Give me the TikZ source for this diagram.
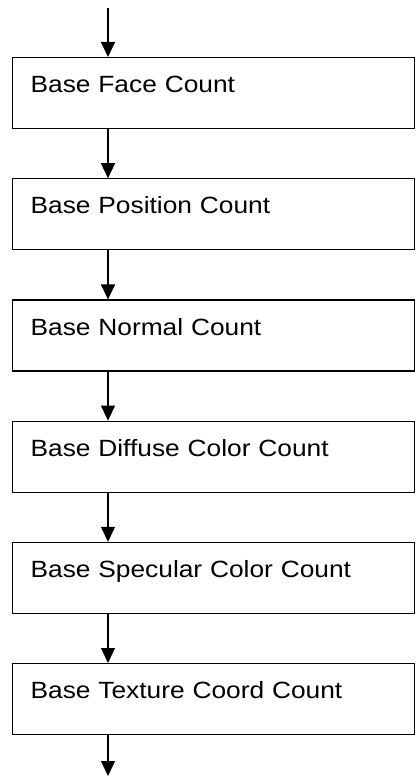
\documentclass[tikz,border=0pt]{standalone}
\usepackage{fontspec}
\setmainfont{Liberation Sans}
\newfontfamily\boxfont[FakeStretch=1.12]{Liberation Sans}
\usetikzlibrary{arrows.meta,positioning}

\begin{document}
\begin{tikzpicture}[x=1pt,y=-1pt,node distance=49pt]
    \tikzset{
      countbox/.style={draw=black,line width=1.2pt,anchor=north west,minimum width=402pt,text width=366pt,align=left,inner xsep=18pt,inner ysep=0pt,text height=35pt,text depth=36pt,font=\boxfont\fontsize{23.5}{27}\selectfont},
      arrow/.style={-{Triangle[length=15pt,width=14pt]},draw=black,line width=1.3pt}
    }
    \useasboundingbox (0,0) rectangle (415,776);
    \coordinate (in) at (108,8);
    \coordinate (out) at (108,776);
    \node[countbox] (face) at (12,57) {Base Face Count};
    \node[countbox,below=of face] (position) {Base Position Count};
    \node[countbox,below=of position] (normal) {Base Normal Count};
    \node[countbox,below=of normal] (diffuse) {Base Diffuse Color Count};
    \node[countbox,below=of diffuse] (specular) {Base Specular Color Count};
    \node[countbox,below=of specular] (texture) {Base Texture Coord Count};
    \draw[arrow] (in) -- (in |- face.north);
    \draw[arrow] (in |- face.south) -- (in |- position.north);
    \draw[arrow] (in |- position.south) -- (in |- normal.north);
    \draw[arrow] (in |- normal.south) -- (in |- diffuse.north);
    \draw[arrow] (in |- diffuse.south) -- (in |- specular.north);
    \draw[arrow] (in |- specular.south) -- (in |- texture.north);
    \draw[arrow] (in |- texture.south) -- (out);
  \end{tikzpicture}
\end{document}
